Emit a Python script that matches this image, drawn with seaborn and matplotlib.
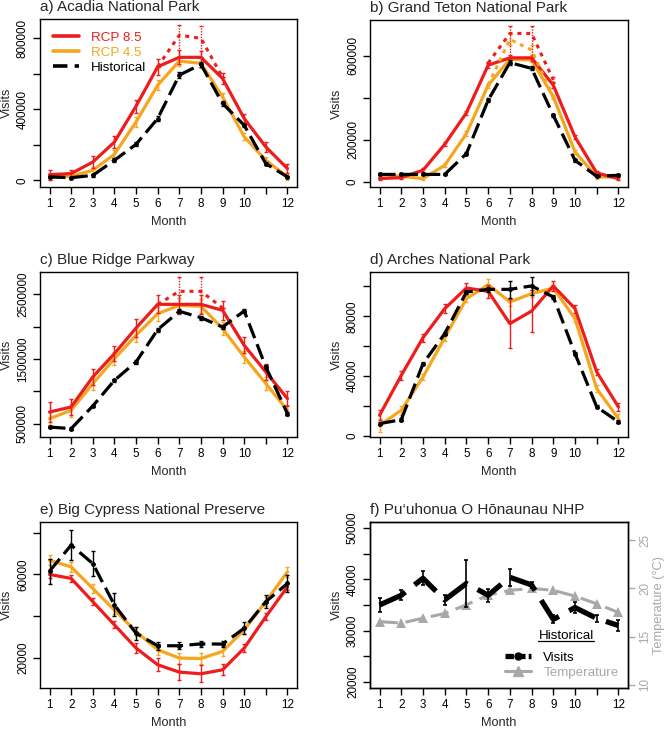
import numpy as np
import pandas as pd
import matplotlib
matplotlib.use('Agg')
import matplotlib.pyplot as plt
import seaborn as sns
from matplotlib.lines import Line2D

sns.set_style('ticks')
plt.rcParams['font.family'] = ['Liberation Sans', 'DejaVu Sans']
plt.rcParams['axes.linewidth'] = 1.0

RED = '#EE1C1C'
ORANGE = '#F5A61E'
BLACK = '#000000'
GRAY = '#A8A8A8'

months = list(range(1, 13))
month_labels = ['1', '2', '3', '4', '5', '6', '7', '8', '9', '10', '', '12']
peak_months = [6, 7, 8, 9]

# ---------------- a) Acadia National Park ----------------
acadia_rcp85 = [32000, 38000, 103000, 216000, 418000, 640000, 693000, 693000, 574000, 348000, 188000, 66000]
acadia_rcp85_err = [28000, 22000, 32000, 36000, 36000, 45000, 40000, 36000, 32000, 28000, 26000, 26000]
acadia_rcp45 = [19000, 23000, 56000, 147000, 329000, 536000, 672000, 659000, 470000, 245000, 113000, 19000]
acadia_rcp45_err = [18000, 16000, 20000, 24000, 26000, 28000, 30000, 28000, 24000, 20000, 18000, 16000]
acadia_hist = [19000, 15000, 28000, 113000, 203000, 348000, 593000, 653000, 433000, 310000, 94000, 19000]
acadia_hist_err = [6000, 6000, 8000, 10000, 12000, 15000, 18000, 15000, 12000, 10000, 8000, 6000]
acadia_rcp85_uncapped = [640000, 818000, 800000, 580000]
acadia_rcp85_uncapped_lo = [0, 125000, 107000, 0]
acadia_rcp85_uncapped_hi = [0, 55000, 69000, 0]

# ---------------- b) Grand Teton National Park ----------------
teton_rcp85 = [16000, 21000, 56000, 179000, 329000, 555000, 590000, 590000, 460000, 214000, 43000, 16000]
teton_rcp85_err = [8000, 8000, 9000, 10000, 10000, 14000, 14000, 14000, 12000, 10000, 8000, 8000]
teton_rcp45 = [36000, 27000, 16000, 79000, 230000, 460000, 583000, 580000, 405000, 143000, 24000, 24000]
teton_rcp45_err = [8000, 8000, 8000, 9000, 10000, 12000, 12000, 12000, 10000, 9000, 8000, 8000]
teton_hist = [36000, 36000, 36000, 36000, 135000, 389000, 567000, 540000, 317000, 103000, 27000, 32000]
teton_hist_err = [5000, 5000, 5000, 5000, 8000, 10000, 12000, 10000, 8000, 6000, 5000, 5000]
teton_rcp85_uncapped = [565000, 706000, 706000, 485000]
teton_rcp85_uncapped_lo = [0, 116000, 116000, 12000]
teton_rcp85_uncapped_hi = [0, 34000, 34000, 12000]
teton_rcp45_uncapped = [460000, 678000, 627000, 405000]
teton_rcp45_uncapped_err = [0, 25000, 25000, 0]

# ---------------- c) Blue Ridge Parkway ----------------
blue_rcp85 = [680000, 758000, 1222000, 1583000, 1979000, 2345000, 2345000, 2345000, 2253000, 1711000, 1299000, 887000]
blue_rcp85_err = [150000, 125000, 120000, 120000, 140000, 140000, 150000, 150000, 150000, 125000, 120000, 120000]
blue_rcp45 = [577000, 706000, 1119000, 1505000, 1866000, 2201000, 2330000, 2314000, 1969000, 1531000, 1119000, 706000]
blue_rcp45_err = [100000, 100000, 100000, 100000, 110000, 110000, 110000, 110000, 100000, 100000, 100000, 90000]
blue_hist = [448000, 423000, 773000, 1170000, 1454000, 1954000, 2237000, 2139000, 1995000, 2242000, 1376000, 655000]
blue_hist_err = [20000, 20000, 20000, 25000, 25000, 30000, 30000, 30000, 30000, 30000, 25000, 20000]
blue_rcp85_uncapped = [2345000, 2547000, 2547000, 2290000]
blue_rcp85_uncapped_lo = [0, 202000, 202000, 0]
blue_rcp85_uncapped_hi = [0, 221000, 221000, 0]

# ---------------- d) Arches National Park ----------------
arches_rcp85 = [13800, 40500, 65700, 85100, 98900, 96700, 75100, 83500, 100300, 85100, 42800, 19400]
arches_rcp85_err = [3300, 3000, 2600, 3000, 3200, 4300, 16500, 14000, 3200, 2600, 2200, 2600]
arches_rcp45 = [7100, 17200, 39400, 65700, 91800, 101100, 89600, 95100, 98900, 78400, 31600, 11600]
arches_rcp45_err = [4300, 3000, 2200, 2200, 2500, 4000, 2500, 2500, 2200, 2200, 2200, 2800]
arches_hist = [8200, 10900, 48300, 68400, 96200, 98000, 98000, 100300, 92900, 55000, 19400, 9400]
arches_hist_err = [1000, 1000, 1200, 1200, 1500, 1500, 5600, 6000, 1500, 1200, 1000, 1000]

# ---------------- e) Big Cypress National Preserve ----------------
cypress_rcp85 = [60000, 58100, 47000, 35900, 24800, 16800, 13300, 12500, 14400, 24800, 39800, 54100]
cypress_rcp85_err = [1600, 1600, 1600, 1600, 2400, 3200, 4000, 4000, 2600, 1800, 1600, 1600]
cypress_rcp45 = [66800, 63600, 53300, 43000, 32700, 24000, 20000, 19800, 23200, 33500, 47000, 61300]
cypress_rcp45_err = [2400, 2400, 2000, 2000, 2000, 2400, 2600, 2600, 2400, 2000, 2000, 2400]
cypress_hist = [61600, 74000, 65200, 45400, 31900, 25900, 25900, 26800, 26700, 34300, 47000, 55700]
cypress_hist_err = [6000, 7100, 6000, 5500, 3200, 1900, 1600, 1600, 1600, 2900, 3200, 4000]

# ---------------- f) Pu'uhonua O Honaunau NHP ----------------
puuhonua_visits = [35000, 36900, 40200, 36000, 39200, 36900, 40400, 38900, 32200, 34500, 32400, 31000]
puuhonua_visits_err = [1300, 1000, 1400, 1000, 4600, 1300, 1700, 650, 800, 1000, 650, 1000]
puuhonua_temp = [16.55, 16.4, 16.9, 17.4, 18.3, 19.3, 19.8, 20.0, 19.8, 19.2, 18.4, 17.5]


def draw_line(ax, x, y, color, lw, ls='-', marker=None, ms=0):
    df = pd.DataFrame({'month': x, 'value': y})
    sns.lineplot(data=df, x='month', y='value', ax=ax, color=color, linewidth=lw,
                 linestyle=ls, marker=marker, markersize=ms, markeredgewidth=0,
                 legend=False, errorbar=None, sort=False)


def draw_err(ax, x, y, err, color, lw=1.0, ls='-'):
    eb = ax.errorbar(x, y, yerr=err, fmt='none', ecolor=color, elinewidth=lw, capsize=1.6,
                     capthick=lw)
    if ls != '-':
        for coll in eb[2]:
            coll.set_linestyle(ls)


def style_axes(ax, title, ylim, yticks, yticklabels, lab_x=-0.105):
    ax.set_xlim(0.56, 12.44)
    ax.set_ylim(*ylim)
    ax.set_xticks(months)
    ax.set_xticklabels(month_labels)
    ax.set_yticks(yticks)
    ax.set_yticklabels(yticklabels)
    ax.tick_params(axis='both', labelsize=8.4, length=5, width=1, pad=3, colors='black')
    for lab in ax.get_yticklabels():
        lab.set_rotation(90)
        lab.set_va('center')
    ax.set_xlabel('Month', fontsize=9.2)
    ax.set_ylabel('Visits', fontsize=9.2)
    ax.xaxis.set_label_coords(0.5, -0.175)
    ax.yaxis.set_label_coords(lab_x, 0.5)
    ax.set_title(title, loc='left', fontsize=11, pad=6)
    for sp in ax.spines.values():
        sp.set_visible(True)
        sp.set_linewidth(1.0)
        sp.set_color('black')


def panel(ax, r85, r85e, r45, r45e, hist, histe):
    draw_line(ax, months, r45, ORANGE, 2.3)
    draw_err(ax, months, r45, r45e, ORANGE)
    draw_line(ax, months, r85, RED, 2.3)
    draw_err(ax, months, r85, r85e, RED)
    draw_line(ax, months, hist, BLACK, 2.3, ls=(0, (5, 2)), marker='o', ms=3.5)
    draw_err(ax, months, hist, histe, BLACK)


fig = plt.figure(figsize=(6.67, 7.31), dpi=100)
W, H = 667.0, 731.0


def add_ax(l, r, t, b):
    return fig.add_axes([l / W, 1 - b / H, (r - l) / W, (b - t) / H])


ax_a = add_ax(40, 297, 19, 187)
ax_b = add_ax(370, 628, 20, 187)
ax_c = add_ax(40, 297, 272, 437)
ax_d = add_ax(370, 628, 272, 437)
ax_e = add_ax(40, 297, 522, 688)
ax_f = add_ax(370, 628, 522, 688)

# a
panel(ax_a, acadia_rcp85, acadia_rcp85_err, acadia_rcp45, acadia_rcp45_err, acadia_hist, acadia_hist_err)
draw_line(ax_a, peak_months, acadia_rcp85_uncapped, RED, 2.2, ls=(0, (1.3, 1.6)))
draw_err(ax_a, peak_months, acadia_rcp85_uncapped, [acadia_rcp85_uncapped_lo, acadia_rcp85_uncapped_hi], RED, ls=(0, (1, 1)))
style_axes(ax_a, 'a) Acadia National Park', (-37600, 909000),
           [0, 200000, 400000, 600000, 800000], ['0', '', '400000', '', '800000'])
handles = [Line2D([], [], color=RED, lw=2.6), Line2D([], [], color=ORANGE, lw=2.6),
           Line2D([], [], color=BLACK, lw=2.6, ls=(0, (4, 2)))]
ax_a.legend(handles, ['RCP 8.5', 'RCP 4.5', 'Historical'], loc='upper left',
            bbox_to_anchor=(0.0, 1.0), frameon=False, fontsize=9.6, handlelength=2.0,
            handletextpad=0.9, labelspacing=0.2, borderaxespad=0.55,
            labelcolor=[RED, ORANGE, BLACK])

# b
panel(ax_b, teton_rcp85, teton_rcp85_err, teton_rcp45, teton_rcp45_err, teton_hist, teton_hist_err)
draw_line(ax_b, peak_months, teton_rcp45_uncapped, ORANGE, 2.2, ls=(0, (1.3, 1.6)))
draw_err(ax_b, peak_months, teton_rcp45_uncapped, teton_rcp45_uncapped_err, ORANGE, ls=(0, (1, 1)))
draw_line(ax_b, peak_months, teton_rcp85_uncapped, RED, 2.2, ls=(0, (1.3, 1.6)))
draw_err(ax_b, peak_months, teton_rcp85_uncapped, [teton_rcp85_uncapped_lo, teton_rcp85_uncapped_hi], RED, ls=(0, (1, 1)))
style_axes(ax_b, 'b) Grand Teton National Park', (-23800, 769800),
           [0, 200000, 400000, 600000], ['0', '200000', '', '600000'])

# c
panel(ax_c, blue_rcp85, blue_rcp85_err, blue_rcp45, blue_rcp45_err, blue_hist, blue_hist_err)
draw_line(ax_c, peak_months, blue_rcp85_uncapped, RED, 2.2, ls=(0, (1.3, 1.6)))
draw_err(ax_c, peak_months, blue_rcp85_uncapped, [blue_rcp85_uncapped_lo, blue_rcp85_uncapped_hi], RED, ls=(0, (1, 1)))
style_axes(ax_c, 'c) Blue Ridge Parkway', (293800, 2845000),
           [500000, 1000000, 1500000, 2000000, 2500000], ['500000', '', '1500000', '', '2500000'])

# d
panel(ax_d, arches_rcp85, arches_rcp85_err, arches_rcp45, arches_rcp45_err, arches_hist, arches_hist_err)
style_axes(ax_d, 'd) Arches National Park', (-700, 109600),
           [0, 20000, 40000, 60000, 80000, 100000], ['0', '', '40000', '', '80000', ''])

# e
panel(ax_e, cypress_rcp85, cypress_rcp85_err, cypress_rcp45, cypress_rcp45_err, cypress_hist, cypress_hist_err)
style_axes(ax_e, 'e) Big Cypress National Preserve', (5700, 85080),
           [20000, 40000, 60000, 80000], ['20000', '', '60000', ''])

# f
ax_t = ax_f.twinx()
ax_t.set_position(ax_f.get_position())
draw_line(ax_t, months, puuhonua_temp, GRAY, 2.2, ls=(0, (6, 2.5)), marker='^', ms=6.5)
draw_line(ax_f, months, puuhonua_visits, BLACK, 3.8, ls=(0, (5.5, 2.2)))
draw_err(ax_f, months, puuhonua_visits, puuhonua_visits_err, BLACK, lw=1.2)
ax_f.set_zorder(ax_t.get_zorder() + 1)
ax_f.patch.set_visible(False)
style_axes(ax_f, 'f) Pu\u2018uhonua O H\u014dnaunau NHP', (18836, 51164),
           [20000, 25000, 30000, 35000, 40000, 45000, 50000],
           ['20000', '', '30000', '', '40000', '', '50000'])
ax_t.set_ylim(9.655, 26.9)
ax_t.set_yticks([10, 15, 20, 25])
ax_t.set_yticklabels(['10', '15', '20', '25'])
ax_t.tick_params(axis='y', labelsize=8.4, length=5, width=1, pad=3, colors=GRAY)
for lab in ax_t.get_yticklabels():
    lab.set_rotation(90)
    lab.set_va('center')
ax_t.set_ylabel('Temperature (\u00b0C)', fontsize=9.2, color=GRAY)
ax_t.yaxis.set_label_coords(1.097, 0.5)
for sp in ax_t.spines.values():
    sp.set_color('black')
    sp.set_linewidth(1.0)

fh = [Line2D([], [], color=BLACK, lw=3.8, ls=(0, (1.6, 0.6)), marker='o', ms=5),
      Line2D([], [], color=GRAY, lw=2.2, marker='^', ms=6.5)]
leg = ax_f.legend(fh, ['Visits', 'Temperature'], loc='lower right', bbox_to_anchor=(1.0, 0.0),
                  frameon=False, fontsize=9.6, handlelength=2.0, handletextpad=0.9,
                  labelspacing=0.2, borderaxespad=0.3, labelcolor=[BLACK, GRAY])
hist_txt = ax_f.text(0.76, 0.313, 'Historical', transform=ax_f.transAxes, ha='center',
                     va='center', fontsize=9.6, color=BLACK)

fig.canvas.draw()
renderer = fig.canvas.get_renderer()
tb = hist_txt.get_window_extent(renderer)
inv = fig.transFigure.inverted()
(x0, y0), (x1, y1) = inv.transform([(tb.x0, tb.y0), (tb.x1, tb.y1)])
fig.add_artist(Line2D([x0, x1], [y0 + 0.001, y0 + 0.001], color=BLACK, lw=0.9,
                      transform=fig.transFigure))

fig.savefig('out.png', dpi=100)
